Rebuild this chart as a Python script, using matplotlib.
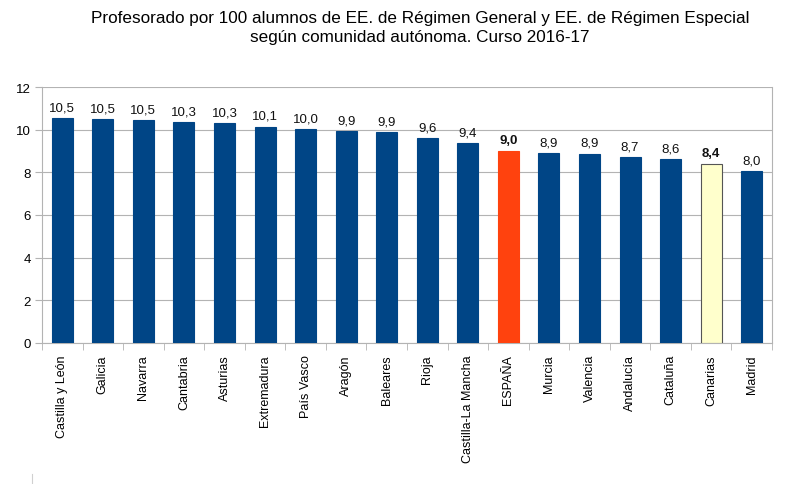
import numpy as np
import matplotlib.pyplot as plt

plt.rcParams['font.family'] = ['Liberation Sans', 'DejaVu Sans']

regiones = ['Castilla y León', 'Galicia', 'Navarra', 'Cantabria', 'Asturias',
            'Extremadura', 'País Vasco', 'Aragón', 'Baleares', 'Rioja',
            'Castilla-La Mancha', 'ESPAÑA', 'Murcia', 'Valencia', 'Andalucía',
            'Cataluña', 'Canarias', 'Madrid']
ratio = [10.53, 10.50, 10.46, 10.34, 10.30, 10.14, 10.03, 9.93, 9.87, 9.59,
         9.36, 9.02, 8.90, 8.88, 8.71, 8.62, 8.41, 8.04]
yticks = [0, 2, 4, 6, 8, 10, 12]

AZUL = '#004586'
colores = []
bordes = []
for r in regiones:
    if r == 'ESPAÑA':
        colores.append('#ff420e')
        bordes.append('#ff420e')
    elif r == 'Canarias':
        colores.append('#ffffcc')
        bordes.append('#555555')
    else:
        colores.append(AZUL)
        bordes.append(AZUL)

fig = plt.figure(figsize=(8, 4.85), dpi=100)
ax = fig.add_axes([42/800, 1 - 344/485, 730/800, 256/485])

x = np.arange(len(regiones))
ax.bar(x, ratio, width=0.52, color=colores, edgecolor=bordes, linewidth=0.8, zorder=3)

for i, v in enumerate(ratio):
    txt = ('%.1f' % v).replace('.', ',')
    bold = regiones[i] in ('ESPAÑA', 'Canarias')
    ax.text(i, v + 0.22, txt, ha='center', va='bottom', fontsize=9.5,
            fontweight='bold' if bold else 'normal', color='#111111')

ax.set_xlim(-0.5, len(regiones) - 0.5)
ax.set_ylim(0, 12)
ax.set_yticks(yticks)
ax.yaxis.grid(True, color='#b3b3b3', linewidth=0.8, zorder=0)
ax.set_axisbelow(True)

ax.set_xticks(x)
ax.set_xticklabels(regiones, rotation=90, fontsize=9)
ax.set_xticks(np.arange(-0.5, len(regiones)), minor=True)
ax.tick_params(axis='x', which='major', length=0, pad=8)
ax.tick_params(axis='x', which='minor', length=5, color='#b3b3b3')
ax.tick_params(axis='y', length=5, color='#b3b3b3', labelsize=9.5, pad=3)

for s in ['left', 'bottom', 'right']:
    ax.spines[s].set_color('#b3b3b3')
ax.spines['top'].set_visible(False)

fig.text(0.525, 0.978, 'Profesorado por 100 alumnos de EE. de Régimen General y EE. de Régimen Especial\n'
         'según comunidad autónoma. Curso 2016-17',
         ha='center', va='top', fontsize=12.3, linespacing=1.35)

# pequeña marca en la esquina inferior izquierda
fig.add_artist(plt.Line2D([32/800, 32/800], [0, 10/485], color='#d0d0d0', linewidth=0.8))

fig.savefig('out.png', dpi=100)
